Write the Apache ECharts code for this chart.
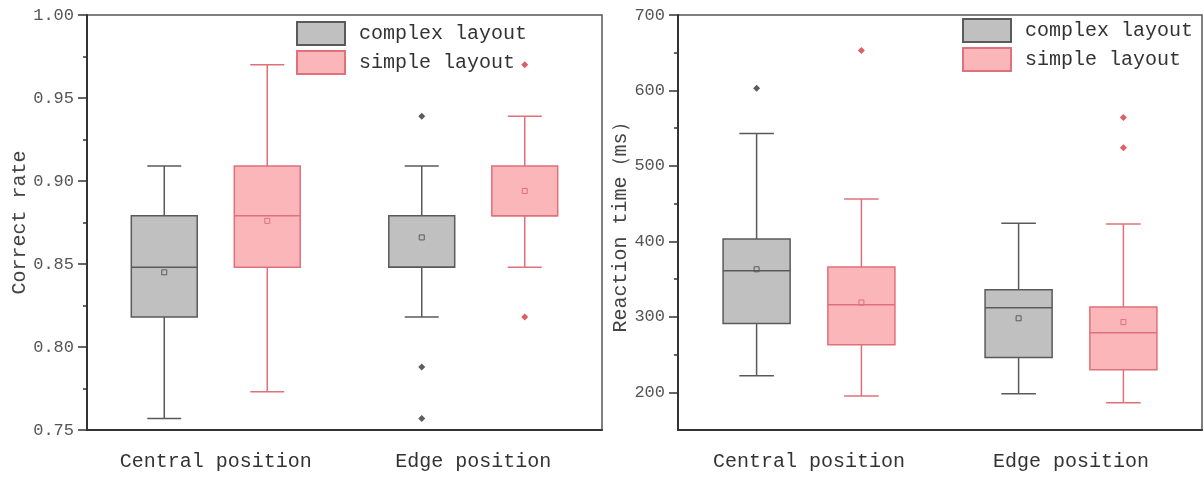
<!DOCTYPE html>
<html>
<head>
<meta charset="utf-8">
<script src="https://cdn.jsdelivr.net/npm/echarts@6/dist/echarts.min.js"></script>
<style>
  html, body { margin: 0; background: #fff; }
  #chart { width: 1204px; height: 478px; }
</style>
</head>
<body>
<div id="chart"></div>
<script>
var categories = ['Central position', 'Edge position'];
var groups = ['complex layout', 'simple layout'];

// [min, Q1, median, Q3, max, mean] per category
var rateComplex = [[0.757, 0.818, 0.848, 0.879, 0.909, 0.845], [0.818, 0.848, 0.848, 0.879, 0.909, 0.866]];
var rateSimple = [[0.773, 0.848, 0.879, 0.909, 0.970, 0.876], [0.848, 0.879, 0.879, 0.909, 0.939, 0.894]];
var rateComplexOut = [[1, 0.939], [1, 0.788], [1, 0.757]];
var rateSimpleOut = [[1, 0.970], [1, 0.818]];

var timeComplex = [[222, 291, 361, 403, 543, 363], [198, 246, 312, 336, 424, 298]];
var timeSimple = [[195, 263, 316, 366, 456, 319], [186, 230, 279, 313, 423, 293]];
var timeComplexOut = [[0, 603]];
var timeSimpleOut = [[0, 653], [1, 564], [1, 524]];

var rateTicks = [0.75, 0.80, 0.85, 0.90, 0.95, 1.00];
var rateMinor = [0.775, 0.825, 0.875, 0.925, 0.975];
var timeTicks = [200, 300, 400, 500, 600, 700];
var timeMinor = [250, 350, 450, 550, 650];

var FONT = '"Liberation Mono", monospace';
var GRAY = { fill: '#c0c0c0', stroke: '#5a5a5a', dot: '#333333' };
var PINK = { fill: '#fbb6ba', stroke: '#e0707a', dot: '#d8343f' };

function withIndex(rows) {
  return rows.map(function (r, i) { return [i].concat(r); });
}

function boxRenderer(side, c) {
  return function (params, api) {
    var cat = api.value(0);
    var band = api.size([1, 0])[0];
    var cx = api.coord([cat, api.value(3)])[0] + side * band * 0.2;
    var y = function (d) { return api.coord([cat, api.value(d)])[1]; };
    var hw = band * 0.128, cw = band * 0.066;
    var ln = { stroke: c.stroke, lineWidth: 1.5 };
    return {
      type: 'group',
      children: [
        { type: 'line', shape: { x1: cx, y1: y(5), x2: cx, y2: y(4) }, style: ln },
        { type: 'line', shape: { x1: cx, y1: y(2), x2: cx, y2: y(1) }, style: ln },
        { type: 'line', shape: { x1: cx - cw, y1: y(5), x2: cx + cw, y2: y(5) }, style: ln },
        { type: 'line', shape: { x1: cx - cw, y1: y(1), x2: cx + cw, y2: y(1) }, style: ln },
        { type: 'rect', shape: { x: cx - hw, y: y(4), width: hw * 2, height: y(2) - y(4) },
          style: { fill: c.fill, stroke: c.stroke, lineWidth: 1.5 } },
        { type: 'line', shape: { x1: cx - hw, y1: y(3), x2: cx + hw, y2: y(3) }, style: ln },
        { type: 'rect', shape: { x: cx - 2.5, y: y(6) - 2.5, width: 5, height: 5 },
          style: { fill: 'none', stroke: c.stroke, lineWidth: 1 } }
      ]
    };
  };
}

function boxSeries(name, idx, side, c, rows) {
  return {
    name: name, type: 'custom', xAxisIndex: idx, yAxisIndex: idx * 2,
    itemStyle: { color: c.fill, borderColor: c.stroke, borderWidth: 1.5 },
    encode: { x: 0, y: [1, 2, 3, 4, 5, 6] },
    renderItem: boxRenderer(side, c),
    data: withIndex(rows)
  };
}

function outSeries(idx, offset, c, pts) {
  return {
    name: 'outliers', type: 'scatter', xAxisIndex: idx, yAxisIndex: idx * 2,
    symbol: 'diamond', symbolSize: 7, symbolOffset: [offset, 0],
    itemStyle: { color: c.dot }, data: pts
  };
}

function yAxes(idx, min, max, ticks, minor, name, gap) {
  return [{
    type: 'value', gridIndex: idx, min: min, max: max,
    name: name, nameLocation: 'middle', nameGap: gap,
    nameTextStyle: { fontFamily: FONT, fontSize: 20, color: '#444' },
    axisLine: { show: true, lineStyle: { color: '#333', width: 2 } },
    axisTick: { show: true, length: 9, customValues: ticks, lineStyle: { color: '#333', width: 1.5 } },
    axisLabel: { customValues: ticks, margin: 13, fontFamily: FONT, fontSize: 17, color: '#555',
      formatter: function (v) { return idx === 0 ? v.toFixed(2) : String(v); } },
    splitLine: { show: false }
  }, {
    type: 'value', gridIndex: idx, min: min, max: max, position: 'left',
    axisLine: { show: false },
    axisTick: { show: true, length: 4, customValues: minor, lineStyle: { color: '#333', width: 1.5 } },
    axisLabel: { show: false },
    splitLine: { show: false }
  }];
}

function xAxis(idx) {
  return {
    type: 'category', gridIndex: idx, data: categories,
    axisLine: { lineStyle: { color: '#333', width: 2 } },
    axisTick: { alignWithLabel: true, length: 6, lineStyle: { color: '#333', width: 1.5 } },
    axisLabel: { margin: 22, fontFamily: FONT, fontSize: 20, color: '#333' }
  };
}

function legend(left, top) {
  return {
    data: groups, orient: 'vertical', left: left, top: top, padding: 0,
    itemWidth: 48, itemHeight: 23, itemGap: 4, icon: 'rect',
    textStyle: { fontFamily: FONT, fontSize: 20, color: '#333', padding: [0, 0, 0, 9] }
  };
}

var chart = echarts.init(document.getElementById('chart'));
chart.setOption({
  animation: false,
  grid: [
    { left: 87, top: 15, width: 515, height: 415, show: true, borderColor: '#555', borderWidth: 1.5 },
    { left: 678, top: 15, width: 524, height: 415, show: true, borderColor: '#555', borderWidth: 1.5 }
  ],
  legend: [legend(296, 21), legend(962, 18)],
  xAxis: [xAxis(0), xAxis(1)],
  yAxis: yAxes(0, 0.75, 1.0, rateTicks, rateMinor, 'Correct rate', 56)
    .concat(yAxes(1, 150, 700, timeTicks, timeMinor, 'Reaction time（ms）', 47)),
  series: [
    boxSeries(groups[0], 0, -1, GRAY, rateComplex),
    boxSeries(groups[1], 0, 1, PINK, rateSimple),
    outSeries(0, -51.5, GRAY, rateComplexOut),
    outSeries(0, 51.5, PINK, rateSimpleOut),
    boxSeries(groups[0], 1, -1, GRAY, timeComplex),
    boxSeries(groups[1], 1, 1, PINK, timeSimple),
    outSeries(1, -52.4, GRAY, timeComplexOut),
    outSeries(1, 52.4, PINK, timeSimpleOut)
  ]
});
</script>
</body>
</html>
